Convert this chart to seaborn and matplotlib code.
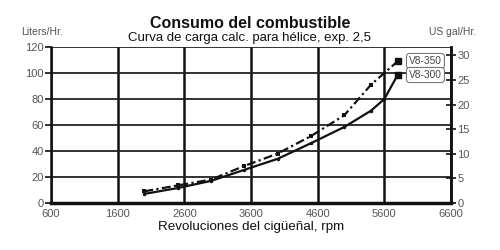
import matplotlib
matplotlib.use("Agg")
import matplotlib.pyplot as plt
import seaborn as sns
import pandas as pd

rpm_350 = [2000, 2500, 3000, 3500, 4000, 4500, 5000, 5400, 5800]
liters_350 = [9, 13.5, 18, 28.5, 38, 51.5, 67.5, 91, 109]
rpm_300 = [2000, 2500, 3000, 3500, 4000, 4500, 5000, 5400, 5600, 5800]
liters_300 = [7, 11.5, 17, 25.5, 34, 46, 58.5, 71, 80, 98.5]
x_ticks = [600, 1600, 2600, 3600, 4600, 5600, 6600]
y_ticks = [0, 20, 40, 60, 80, 100, 120]
gal_ticks = [0, 5, 10, 15, 20, 25, 30]
LITERS_PER_GAL = 3.785

sns.set_theme(style="white")
plt.rcParams['font.family'] = ['Liberation Sans', 'DejaVu Sans']

df350 = pd.DataFrame({"rpm": rpm_350, "liters": liters_350})
df300 = pd.DataFrame({"rpm": rpm_300, "liters": liters_300})

fig = plt.figure(figsize=(5, 2.5), dpi=100)
ax = fig.add_axes([0.102, 0.188, 0.8, 0.624])

for v in x_ticks:
    ax.axvline(v, color='#111111', lw=1.8, zorder=1)
for v in y_ticks:
    ax.axhline(v, color='#222222', lw=1.3, zorder=1)

sns.lineplot(data=df300, x="rpm", y="liters", ax=ax, color='#111111', lw=1.6,
             marker='o', markersize=2.5, markeredgewidth=0, zorder=3)
sns.lineplot(data=df350, x="rpm", y="liters", ax=ax, color='#111111', lw=1.6,
             linestyle=(0, (4, 1.5, 1, 1.5)), marker='s', markersize=2.5,
             markeredgewidth=0, zorder=3)
ax.plot(rpm_350[-1:], liters_350[-1:], marker='s', ms=4.5, color='#111111', zorder=4)
ax.plot(rpm_300[-1:], liters_300[-1:], marker='s', ms=4.5, color='#111111', zorder=4)

ax.set_xlim(600, 6600)
ax.set_ylim(0, 120)
ax.set_xticks(x_ticks)
ax.set_yticks(y_ticks)
ax.set_xlabel("Revoluciones del cigüeñal, rpm", fontsize=9.6, color='#111111', labelpad=2)
ax.set_ylabel("")
ax.tick_params(axis='x', length=0, labelsize=8, labelcolor='#555555', pad=4)
ax.tick_params(axis='y', length=4, width=1.2, direction='out', labelsize=8,
               labelcolor='#555555', pad=1, color='#111111')
ax.spines['top'].set_visible(False)
ax.spines['bottom'].set_linewidth(2.5)
ax.spines['bottom'].set_color('#111111')
ax.spines['left'].set_linewidth(1.8)
ax.spines['left'].set_color('#111111')
ax.spines['right'].set_linewidth(1.8)
ax.spines['right'].set_color('#111111')

ax2 = ax.twinx()
ax2.set_ylim(0, 120 / LITERS_PER_GAL)
ax2.set_yticks(gal_ticks)
ax2.tick_params(axis='y', length=7, width=1.2, direction='inout', labelsize=8,
                labelcolor='#555555', pad=1, color='#111111')
for s in ['top', 'left', 'bottom']:
    ax2.spines[s].set_visible(False)
ax2.spines['right'].set_linewidth(1.8)
ax2.spines['right'].set_color('#111111')

# series labels
box = dict(boxstyle='round,pad=0.25,rounding_size=0.3', fc='white', ec='#777777', lw=0.8)
fig.text(409 / 500, 1 - 61 / 250, "V8-350", fontsize=7.3, color='#444444',
         va='center', ha='left', bbox=box, zorder=5)
fig.text(409 / 500, 1 - 75 / 250, "V8-300", fontsize=7.3, color='#444444',
         va='center', ha='left', bbox=box, zorder=5)

fig.text(0.5, 0.905, "Consumo del combustible", ha='center', va='center',
         fontsize=11.5, fontweight='bold', color='#111111')
fig.text(0.5, 0.848, "Curva de carga calc. para hélice, exp. 2,5", ha='center',
         va='center', fontsize=9.5, color='#111111')
fig.text(0.085, 0.872, "Liters/Hr.", ha='center', va='center', fontsize=7.5, color='#555555')
fig.text(0.906, 0.872, "US gal/Hr.", ha='center', va='center', fontsize=7.5, color='#555555')

fig.savefig("out.png", dpi=100, facecolor='white')
